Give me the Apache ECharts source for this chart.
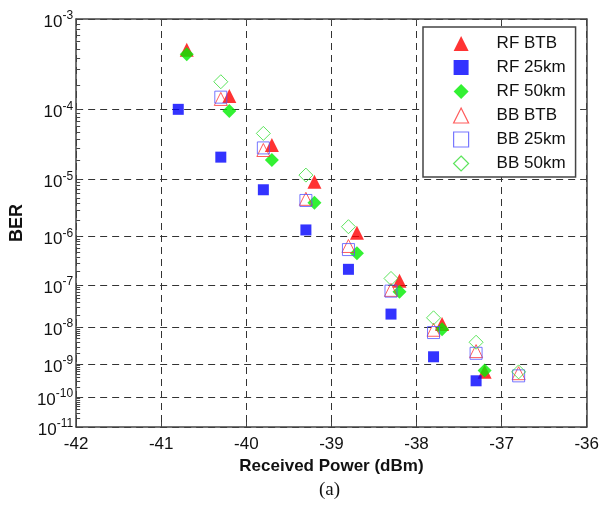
<!DOCTYPE html>
<html><head><meta charset="utf-8">
<script src="https://cdn.jsdelivr.net/npm/echarts@6/dist/echarts.min.js"></script>
<style>html,body{margin:0;padding:0;background:#fff}#c{width:602px;height:506px}</style>
</head><body><div id="c"></div>
<script>
// ---- data ----
const seriesNames = ['RF BTB', 'RF 25km', 'RF 50km', 'BB BTB', 'BB 25km', 'BB 50km'];
const xRF = [-40.7, -40.2, -39.7, -39.2, -38.7, -38.2, -37.7, -37.2];
const xRF25 = [-40.8, -40.3, -39.8, -39.3, -38.8, -38.3, -37.8, -37.3];
const xBB = [-40.3, -39.8, -39.3, -38.8, -38.3, -37.8, -37.3, -36.8];
const berRF_BTB = [4.9e-4, 1.47e-4, 3.3e-5, 9.2e-6, 1.19e-6, 1.25e-7, 1.19e-8, 6.0e-10];
const berRF_25 = [1.0e-4, 2.2e-5, 6.8e-6, 1.34e-6, 2.2e-7, 2.1e-8, 1.6e-9, 3.2e-10];
const berRF_50 = [4.4e-4, 9.5e-5, 2.0e-5, 4.1e-6, 4.7e-7, 7.1e-8, 8.7e-9, 6.5e-10];
const berBB_BTB = [1.35e-4, 2.8e-5, 4.8e-6, 6.6e-7, 7.8e-8, 8.5e-9, 2.3e-9, 5.4e-10];
const berBB_25 = [1.42e-4, 3.0e-5, 4.5e-6, 5.6e-7, 7.3e-8, 7.2e-9, 2.0e-9, 4.5e-10];
const berBB_50 = [2.17e-4, 4.8e-5, 1.17e-5, 1.54e-6, 1.4e-7, 1.7e-8, 4.0e-9, 5.9e-10];
const xTickMin = -42, xTickMax = -36, xTickStep = 1;
const yDecadeExps = [3, 4, 5, 6, 7, 8, 9, 10, 11];

// BER axis scale: log10(-log10(BER)), inverted
const tr = v => Math.log10(-Math.log10(v));
const decadeU = yDecadeExps.map(e => tr(Math.pow(10, -e)));
const minorU = [];
for (let e = 3; e <= 10; e++) for (let k = 2; k <= 9; k++) minorU.push(tr(k * Math.pow(10, -(e + 1))));
const yMin = decadeU[0], yMax = decadeU[decadeU.length - 1];
const pts = (xs, ys) => xs.map((x, i) => [x, tr(ys[i])]);

const FONT = '"Liberation Sans", Arial, sans-serif';
const axisColor = '#444';
const dash = { show: true, lineStyle: { type: [7, 5], color: '#333', width: 1 } };

const yCommon = { type: 'value', min: yMin, max: yMax, inverse: true };

const option = {
  animation: false,
  backgroundColor: '#fff',
  textStyle: { fontFamily: FONT },
  grid: { left: 69, right: 13, top: 19, bottom: 79 },
  xAxis: [
    {
      type: 'value', min: xTickMin, max: xTickMax, interval: xTickStep, position: 'bottom',
      axisLine: { onZero: false, lineStyle: { color: axisColor, width: 1.5 } },
      axisTick: { inside: true, length: 5, lineStyle: { color: axisColor } },
      axisLabel: { fontSize: 17, color: '#111', margin: 9, fontFamily: FONT },
      splitLine: dash,
      name: 'Received Power (dBm)', nameLocation: 'middle', nameGap: 30,
      nameTextStyle: { fontSize: 17, fontWeight: 'bold', color: '#111', fontFamily: FONT }
    },
    {
      type: 'value', min: xTickMin, max: xTickMax, interval: xTickStep, position: 'top',
      axisLine: { onZero: false, lineStyle: { color: axisColor, width: 1.5 } },
      axisTick: { inside: true, length: 5, lineStyle: { color: axisColor } },
      axisLabel: { show: false }, splitLine: { show: false }
    }
  ],
  yAxis: [
    Object.assign({}, yCommon, {
      position: 'left',
      axisLine: { show: true, onZero: false, lineStyle: { color: axisColor, width: 1.5 } },
      axisTick: { show: true, inside: true, length: 5, customValues: decadeU, lineStyle: { color: axisColor } },
      axisLabel: {
        customValues: decadeU, margin: 3, color: '#111',
        formatter: v => '{b|10}{s|-' + Math.round(Math.pow(10, v)) + '}',
        rich: {
          b: { fontSize: 17, lineHeight: 20, padding: [6, 0, 0, 0], color: '#111', fontFamily: FONT },
          s: { fontSize: 12, lineHeight: 14, padding: [3, 0, 9, 0], color: '#111', fontFamily: FONT }
        }
      },
      splitLine: dash,
      name: 'BER', nameLocation: 'middle', nameGap: 41,
      nameTextStyle: { fontSize: 18, fontWeight: 'bold', color: '#111', fontFamily: FONT }
    }),
    Object.assign({}, yCommon, {
      position: 'left', offset: 0,
      axisLine: { show: false },
      axisTick: { show: true, inside: true, length: 4, customValues: minorU, lineStyle: { color: axisColor } },
      axisLabel: { show: false }, splitLine: { show: false }
    }),
    Object.assign({}, yCommon, {
      position: 'right', offset: 0,
      axisLine: { show: true, onZero: false, lineStyle: { color: axisColor, width: 1.5 } },
      axisTick: { show: true, inside: true, length: 5, customValues: decadeU, lineStyle: { color: axisColor } },
      axisLabel: { show: false }, splitLine: { show: false }
    })
  ],
  legend: {
    orient: 'vertical', left: 423, top: 27,
    padding: [8, 10, 5, 30], itemWidth: 15, itemHeight: 15, itemGap: 7,
    borderColor: axisColor, borderWidth: 1.5, backgroundColor: '#fff',
    formatter: n => '{t|' + n + '}',
    textStyle: {
      fontSize: 17, color: '#111', lineHeight: 15, fontFamily: FONT,
      rich: { t: { fontSize: 17, lineHeight: 15, color: '#111', fontFamily: FONT, padding: [0, 0, 0, 23] } }
    },
    itemStyle: { borderWidth: 1.2 },
    data: seriesNames
  },
  graphic: [
    { type: 'text', left: 319, top: 481, style: { text: '(a)', font: '19px "Liberation Serif", "Times New Roman", serif', fill: '#111' } }
  ],
  series: [
    { name: seriesNames[0], type: 'scatter', symbol: 'triangle', symbolSize: 14, data: pts(xRF, berRF_BTB),
      itemStyle: { color: '#ff0000' } },
    { name: seriesNames[1], type: 'scatter', symbol: 'rect', symbolSize: 11, data: pts(xRF25, berRF_25),
      itemStyle: { color: '#0000ff' } },
    { name: seriesNames[2], type: 'scatter', symbol: 'diamond', symbolSize: 14, data: pts(xRF, berRF_50),
      itemStyle: { color: '#00ee00' } },
    { name: seriesNames[3], type: 'scatter', symbol: 'triangle', symbolSize: 13, data: pts(xBB, berBB_BTB),
      itemStyle: { color: 'rgba(255,255,255,0)', borderColor: '#ff3333', borderWidth: 1 } },
    { name: seriesNames[4], type: 'scatter', symbol: 'rect', symbolSize: 12, data: pts(xBB, berBB_25),
      itemStyle: { color: 'rgba(255,255,255,0)', borderColor: '#5555ff', borderWidth: 1 } },
    { name: seriesNames[5], type: 'scatter', symbol: 'diamond', symbolSize: 14, data: pts(xBB, berBB_50),
      itemStyle: { color: 'rgba(255,255,255,0)', borderColor: '#33dd33', borderWidth: 1 } }
  ]
};
const chart = echarts.init(document.getElementById('c'), null, { renderer: 'canvas' });
chart.setOption(option);
</script>
</body></html>
